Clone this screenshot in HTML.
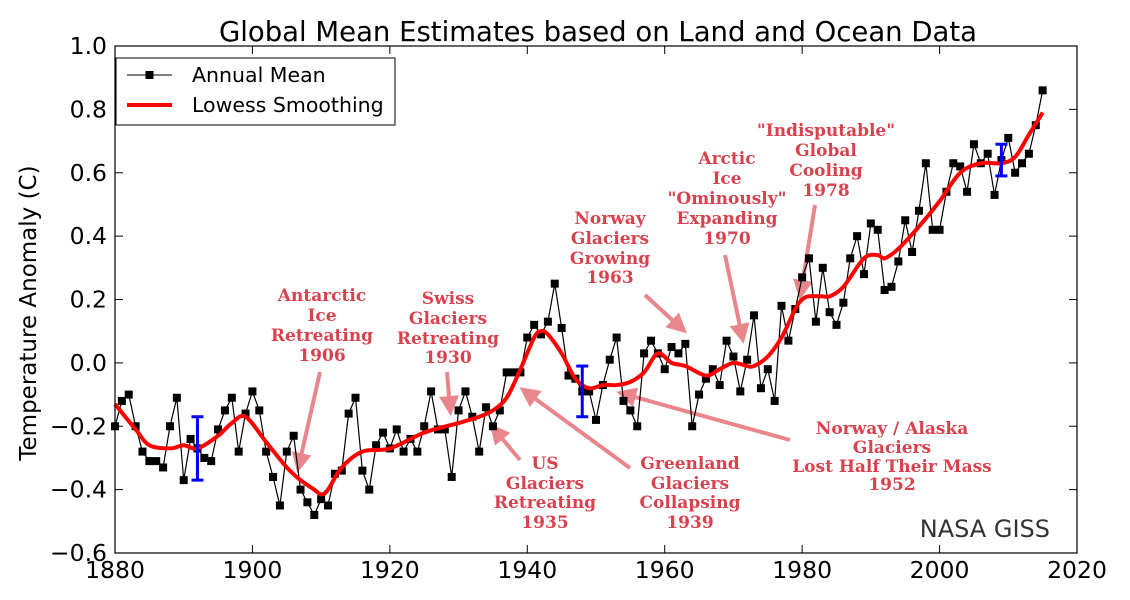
<!DOCTYPE html>
<html><head><meta charset="utf-8"><style>
body{margin:0;background:#fff}
svg{display:block;font-family:"DejaVu Sans","Liberation Sans",sans-serif}
.ann{font-family:"DejaVu Serif","Liberation Serif",serif;font-weight:bold;font-size:17px;fill:#d9414d;text-anchor:middle}
</style></head><body>
<svg id="chart" width="1130" height="600">
<defs><marker id="ah" markerWidth="5" markerHeight="5" refX="3" refY="2.5" orient="auto" markerUnits="strokeWidth"><path d="M0,0 L5,2.5 L0,5 Z" fill="#e8868c"/></marker></defs>
<text x="598" y="41" font-size="27.5" text-anchor="middle">Global Mean Estimates based on Land and Ocean Data</text>
<text transform="translate(36,313) rotate(-90)" font-size="23" text-anchor="middle">Temperature Anomaly (C)</text>
<g id="ann"></g>
<g id="plot"></g>
<rect x="115" y="46" width="962" height="507" fill="none" stroke="#000" stroke-width="1.2"/>
<g id="axes"></g>
<text x="1050" y="537" font-size="24" fill="#333" text-anchor="end">NASA GISS</text>
<g>
<rect x="116" y="58" width="279" height="67" fill="#fff" stroke="#000" stroke-width="1"/>
<line x1="127" y1="75" x2="172" y2="75" stroke="#000" stroke-width="1"/>
<rect x="145.5" y="71" width="8" height="8" fill="#000"/>
<text x="192" y="82" font-size="20.5">Annual Mean</text>
<line x1="127" y1="105" x2="172" y2="105" stroke="#f00" stroke-width="4"/>
<text x="192" y="112" font-size="20.5">Lowess Smoothing</text>
</g>
</svg>
<script>
const years=[];for(let y=1880;y<=2015;y++)years.push(y);
const annualMean=[-0.20,-0.12,-0.10,-0.20,-0.28,-0.31,-0.31,-0.33,-0.20,-0.11,-0.37,-0.24,-0.27,-0.30,-0.31,-0.21,-0.15,-0.11,-0.28,-0.16,-0.09,-0.15,-0.28,-0.36,-0.45,-0.28,-0.23,-0.40,-0.44,-0.48,-0.43,-0.45,-0.35,-0.34,-0.16,-0.11,-0.34,-0.40,-0.26,-0.22,-0.27,-0.21,-0.28,-0.24,-0.28,-0.20,-0.09,-0.21,-0.21,-0.36,-0.15,-0.09,-0.17,-0.28,-0.14,-0.20,-0.15,-0.03,-0.03,-0.03,0.08,0.12,0.09,0.13,0.25,0.11,-0.04,-0.05,-0.09,-0.09,-0.18,-0.07,0.01,0.08,-0.12,-0.15,-0.20,0.03,0.07,0.03,-0.02,0.05,0.03,0.06,-0.20,-0.10,-0.05,-0.02,-0.07,0.07,0.02,-0.09,0.01,0.15,-0.08,-0.02,-0.12,0.18,0.07,0.17,0.27,0.33,0.13,0.30,0.16,0.12,0.19,0.33,0.40,0.28,0.44,0.42,0.23,0.24,0.32,0.45,0.35,0.48,0.63,0.42,0.42,0.54,0.63,0.62,0.54,0.69,0.63,0.66,0.53,0.64,0.71,0.60,0.63,0.66,0.75,0.86];
const lowessYears=[1880,1883,1885,1888,1890,1892,1895,1897,1899,1902,1905,1907,1909,1910,1911,1913,1916,1920,1925,1930,1933,1935,1937,1939,1941,1942,1943,1945,1947,1949,1951,1953,1955,1957,1959,1961,1963,1966,1968,1970,1972,1973,1975,1977,1979,1980,1981,1983,1984,1986,1989,1991,1992,1994,1997,2000,2003,2006,2009,2011,2013,2015];
const lowessVals=[-0.13,-0.21,-0.26,-0.27,-0.26,-0.27,-0.23,-0.19,-0.17,-0.25,-0.33,-0.37,-0.40,-0.415,-0.40,-0.33,-0.28,-0.27,-0.22,-0.19,-0.17,-0.15,-0.11,-0.02,0.08,0.10,0.09,0.03,-0.05,-0.08,-0.07,-0.07,-0.06,-0.03,0.03,0.00,-0.01,-0.04,-0.02,0.00,-0.01,-0.01,0.02,0.08,0.17,0.20,0.21,0.21,0.21,0.24,0.33,0.34,0.33,0.36,0.43,0.51,0.60,0.63,0.63,0.65,0.72,0.79];
const errYears=[1892,1948,2009],errLo=[-0.37,-0.17,0.59],errHi=[-0.17,-0.01,0.69];
const xTicks=[1880,1900,1920,1940,1960,1980,2000,2020];
const yTicks=[-0.6,-0.4,-0.2,0.0,0.2,0.4,0.6,0.8,1.0];
const X=v=>115+(v-1880)*962/140, Y=v=>553-(v+0.6)*507/1.6;
const NS='http://www.w3.org/2000/svg';
function mk(t,a,p){const e=document.createElementNS(NS,t);for(const k in a)e.setAttribute(k,a[k]);p.appendChild(e);return e;}
const plot=document.getElementById('plot'),axes=document.getElementById('axes'),ann=document.getElementById('ann');
const ml=mk('polyline',{points:years.map((y,i)=>X(y)+','+Y(annualMean[i])).join(' '),fill:'none',stroke:'#000','stroke-width':1.2},plot);


years.forEach((y,i)=>{const r=mk('rect',{x:X(y)-4,y:Y(annualMean[i])-4,width:8,height:8,fill:'#000'},plot);

});
const P=lowessYears.map((y,i)=>[X(y),Y(lowessVals[i])]);
let d='M'+P[0][0]+','+P[0][1];
for(let i=0;i<P.length-1;i++){const p0=P[Math.max(0,i-1)],p1=P[i],p2=P[i+1],p3=P[Math.min(P.length-1,i+2)];
d+=' C'+(p1[0]+(p2[0]-p0[0])/6)+','+(p1[1]+(p2[1]-p0[1])/6)+' '+(p2[0]-(p3[0]-p1[0])/6)+','+(p2[1]-(p3[1]-p1[1])/6)+' '+p2[0]+','+p2[1];}
const lw=mk('path',{d:d,fill:'none',stroke:'#f00','stroke-width':4,'stroke-linejoin':'round'},plot);


errYears.forEach((y,i)=>{const g=mk('g',{stroke:'#00f','stroke-width':3},plot);


const x=X(y);mk('line',{x1:x,x2:x,y1:Y(errLo[i]),y2:Y(errHi[i])},g);
mk('line',{x1:x-6,x2:x+6,y1:Y(errLo[i]),y2:Y(errLo[i])},g);mk('line',{x1:x-6,x2:x+6,y1:Y(errHi[i]),y2:Y(errHi[i])},g);});
xTicks.forEach(t=>{const x=X(t);mk('line',{x1:x,x2:x,y1:553,y2:545,stroke:'#000'},axes);mk('line',{x1:x,x2:x,y1:46,y2:54,stroke:'#000'},axes);
const l=mk('text',{x:x,y:578,'font-size':23.5,'text-anchor':'middle'},axes);l.textContent=t;

});
yTicks.forEach(t=>{const y=Y(t);mk('line',{x1:115,x2:123,y1:y,y2:y,stroke:'#000'},axes);mk('line',{x1:1077,x2:1069,y1:y,y2:y,stroke:'#000'},axes);
const l=mk('text',{x:107,y:y+8,'font-size':23.5,'text-anchor':'end'},axes);l.textContent=(t<0?'\u2212':'')+Math.abs(t).toFixed(1);

});
const notes=[
[322,[295,315,335,355],['Antarctic','Ice','Retreating','1906'],[320,372,299,465]],
[448,[298,318,338,357],['Swiss','Glaciers','Retreating','1930'],[447,372,450,408]],
[610,[218,238,258,277],['Norway','Glaciers','Growing','1963'],[645,295,681,328]],
[727,[158,178,198,218,238],['Arctic','Ice','"Ominously"','Expanding','1970'],[725,255,742,336]],
[826,[130,150,170,190],['"Indisputable"','Global','Cooling','1978'],[815,205,801,292]],
[545,[463,483,502,522],['US','Glaciers','Retreating','1935'],[520,460,495,430]],
[690,[463,483,502,522],['Greenland','Glaciers','Collapsing','1939'],[630,468,526,392]],
[892,[428,447,466,484],['Norway / Alaska','Glaciers','Lost Half Their Mass','1952'],[790,440,624,394]]];
notes.forEach(n=>{const g=mk('g',{},ann);


mk('line',{x1:n[3][0],y1:n[3][1],x2:n[3][2],y2:n[3][3],stroke:'#e8868c','stroke-width':4,'marker-end':'url(#ah)'},g);
n[2].forEach((s,i)=>{const t=mk('text',{x:n[0],y:n[1][i]+6,class:'ann'},g);t.textContent=s;});});
</script>
</body></html>
